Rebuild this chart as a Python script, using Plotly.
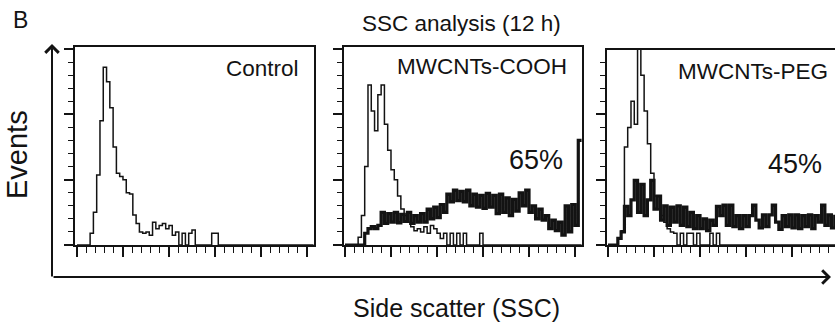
import plotly.graph_objects as go

W, H = 835, 326

# ---------------- data (counts per channel bin) ----------------
control_counts = [0, 0, 0, 0, 18, 50, 107, 190, 272, 250, 210, 150, 110, 105, 100, 80, 78, 46, 33, 20,
                  18, 20, 15, 35, 25, 30, 33, 25, 30, 15, 20, 0, 18, 0, 18, 23, 0, 0, 0, 0,
                  0, 18, 18, 0, 0, 0, 0, 0, 0, 0, 0, 0, 0, 0, 0, 0, 0, 0, 0, 0,
                  0, 0, 0, 0, 0, 0, 0, 0, 0, 0, 0, 0]

cooh_control = [0, 0, 0, 0, 12, 45, 120, 245, 205, 175, 230, 245, 185, 145, 115, 100, 75, 55, 45, 35,
                28, 22, 25, 20, 28, 18, 30, 25, 18, 10, 18, 0, 18, 0, 18, 0, 18, 0, 0, 0,
                0, 18, 0, 0, 0, 0, 0, 0, 0, 0, 0, 0, 0, 0, 0, 0, 0, 0, 0, 0,
                0, 0, 0, 0, 0, 0, 0, 0, 0, 0, 0, 0]

cooh_treated = [0, 0, 0, 0, 0, 0, 18, 25, 28, 25, 30, 50, 33, 48, 35, 50, 34, 47, 36, 50,
                33, 45, 35, 48, 35, 55, 40, 58, 42, 62, 50, 78, 66, 84, 68, 82, 66, 84, 60, 78,
                58, 76, 56, 79, 58, 76, 48, 78, 50, 72, 45, 70, 52, 80, 60, 84, 50, 60, 40, 55,
                38, 45, 25, 38, 22, 35, 15, 60, 20, 62, 30, 160]

peg_control = [0, 0, 0, 10, 22, 150, 180, 220, 185, 330, 260, 205, 155, 110, 75, 55, 45, 35, 25, 20,
               18, 0, 18, 0, 18, 18, 0, 18, 0, 0, 0, 18, 0, 18, 0, 0, 0, 0, 0, 0,
               0, 0, 0, 0, 0, 0, 0, 0, 0, 0, 0, 0, 0, 0, 0, 0, 0, 0, 0, 0,
               0, 0, 0, 0, 0, 0, 0, 0, 0, 0]

peg_treated = [0, 0, 0, 10, 20, 59, 45, 69, 99, 50, 93, 45, 69, 99, 55, 75, 38, 60, 30, 58,
               35, 60, 30, 58, 28, 50, 25, 45, 25, 40, 22, 38, 30, 59, 45, 61, 30, 61, 28, 45,
               25, 45, 28, 45, 61, 38, 26, 46, 28, 46, 61, 35, 24, 45, 28, 46, 26, 46, 25, 45,
               28, 46, 25, 45, 35, 61, 30, 46, 26, 44]

panel_names = ["Control", "MWCNTs-COOH", "MWCNTs-PEG"]
percent_text = ["", "65%", "45%"]

# ---------------- layout geometry (pixels) ----------------
INK = "#131313"
FONT = "Arial, Liberation Sans, sans-serif"
PX_X = 3.286      # pixels per channel
PX_Y = 0.6533     # pixels per count
BASE = 245
panels = [  # left, right, top, range start
    dict(l=75, r=314, t=47, s=-0.6),
    dict(l=344, r=582, t=47, s=-0.3),
    dict(l=607, r=835, t=50, s=-0.3),
]

def steps(counts):
    x = list(range(len(counts) + 1))
    y = list(counts) + [counts[-1]]
    return x, y

fig = go.Figure()

series = [
    [(control_counts, 1.5)],
    [(cooh_control, 1.5), (cooh_treated, 3.2)],
    [(peg_control, 1.5), (peg_treated, 3.2)],
]

for k, lst in enumerate(series):
    xa = "x" if k == 0 else f"x{k+1}"
    ya = "y" if k == 0 else f"y{k+1}"
    for counts, lw in lst:
        x, y = steps(counts)
        fig.add_trace(go.Scatter(x=x, y=y, mode="lines", line=dict(color=INK, width=lw, shape="hv"),
                                 xaxis=xa, yaxis=ya, hoverinfo="skip", showlegend=False))

for k, p in enumerate(panels):
    sfx = "" if k == 0 else str(k + 1)
    xr_end = p["s"] + (p["r"] - p["l"]) / PX_X
    yr_end = (BASE - p["t"]) / PX_Y
    fig.update_layout(**{
        f"xaxis{sfx}": dict(
            domain=[p["l"] / W, min(p["r"] / W, 1.0)], range=[p["s"], xr_end],
            anchor=f"y{sfx}", showline=True, linecolor=INK, linewidth=1.7, mirror=True,
            ticks="outside", ticklen=10, tickwidth=1.5, tickcolor=INK, tick0=0, dtick=14,
            minor=dict(ticks="outside", ticklen=6, tickwidth=1.3, tickcolor=INK, tick0=0, dtick=2.8),
            showticklabels=False, showgrid=False, zeroline=False, fixedrange=True),
        f"yaxis{sfx}": dict(
            domain=[(H - BASE) / H, (H - p["t"]) / H], range=[0, yr_end],
            anchor=f"x{sfx}", showline=True, linecolor=INK, linewidth=1.7, mirror=(k < 2),
            ticks="outside", ticklen=9, tickwidth=1.5, tickcolor=INK, tick0=0, dtick=100,
            minor=dict(ticks="outside", ticklen=5, tickwidth=1.3, tickcolor=INK, tick0=0, dtick=20),
            showticklabels=False, showgrid=False, zeroline=False, fixedrange=True),
    })

def P(x, y):
    return x / W, 1 - y / H

ann = []
def text(t, x, y, size, xanchor="center", angle=0):
    px, py = P(x, y)
    ann.append(dict(text=t, x=px, y=py, xref="paper", yref="paper", xanchor=xanchor, yanchor="middle",
                    showarrow=False, textangle=angle, font=dict(family=FONT, size=size, color=INK)))

text("B", 10.5, 20, 23, "left")
text("SSC analysis (12 h)", 461, 23, 22.5)
text("Events", 17, 155, 29, angle=-90)
text("Side scatter (SSC)", 456, 308, 25)
text(panel_names[0], 301, 68.5, 22.5, "right")
text(panel_names[1], 395, 66.7, 22.5, "left")
text(panel_names[2], 676, 71.7, 22.5, "left")
text(percent_text[1], 507, 160, 27, "left")
text(percent_text[2], 766, 164, 27, "left")

# big axis arrows
vx, vy = P(52, 44)
ann.append(dict(text="", x=vx, y=vy, xref="paper", yref="paper", ax=0, ay=278 - 44,
                axref="pixel", ayref="pixel", showarrow=True, arrowhead=4, arrowsize=1.3,
                arrowwidth=2, arrowcolor=INK))
hx, hy = P(831, 277)
ann.append(dict(text="", x=hx, y=hy, xref="paper", yref="paper", ax=-(831 - 52), ay=0,
                axref="pixel", ayref="pixel", showarrow=True, arrowhead=4, arrowsize=1.3,
                arrowwidth=2, arrowcolor=INK))

fig.update_layout(width=W, height=H, margin=dict(l=0, r=0, t=0, b=0),
                  paper_bgcolor="white", plot_bgcolor="white", showlegend=False,
                  annotations=ann)

fig.write_html("out.html")
